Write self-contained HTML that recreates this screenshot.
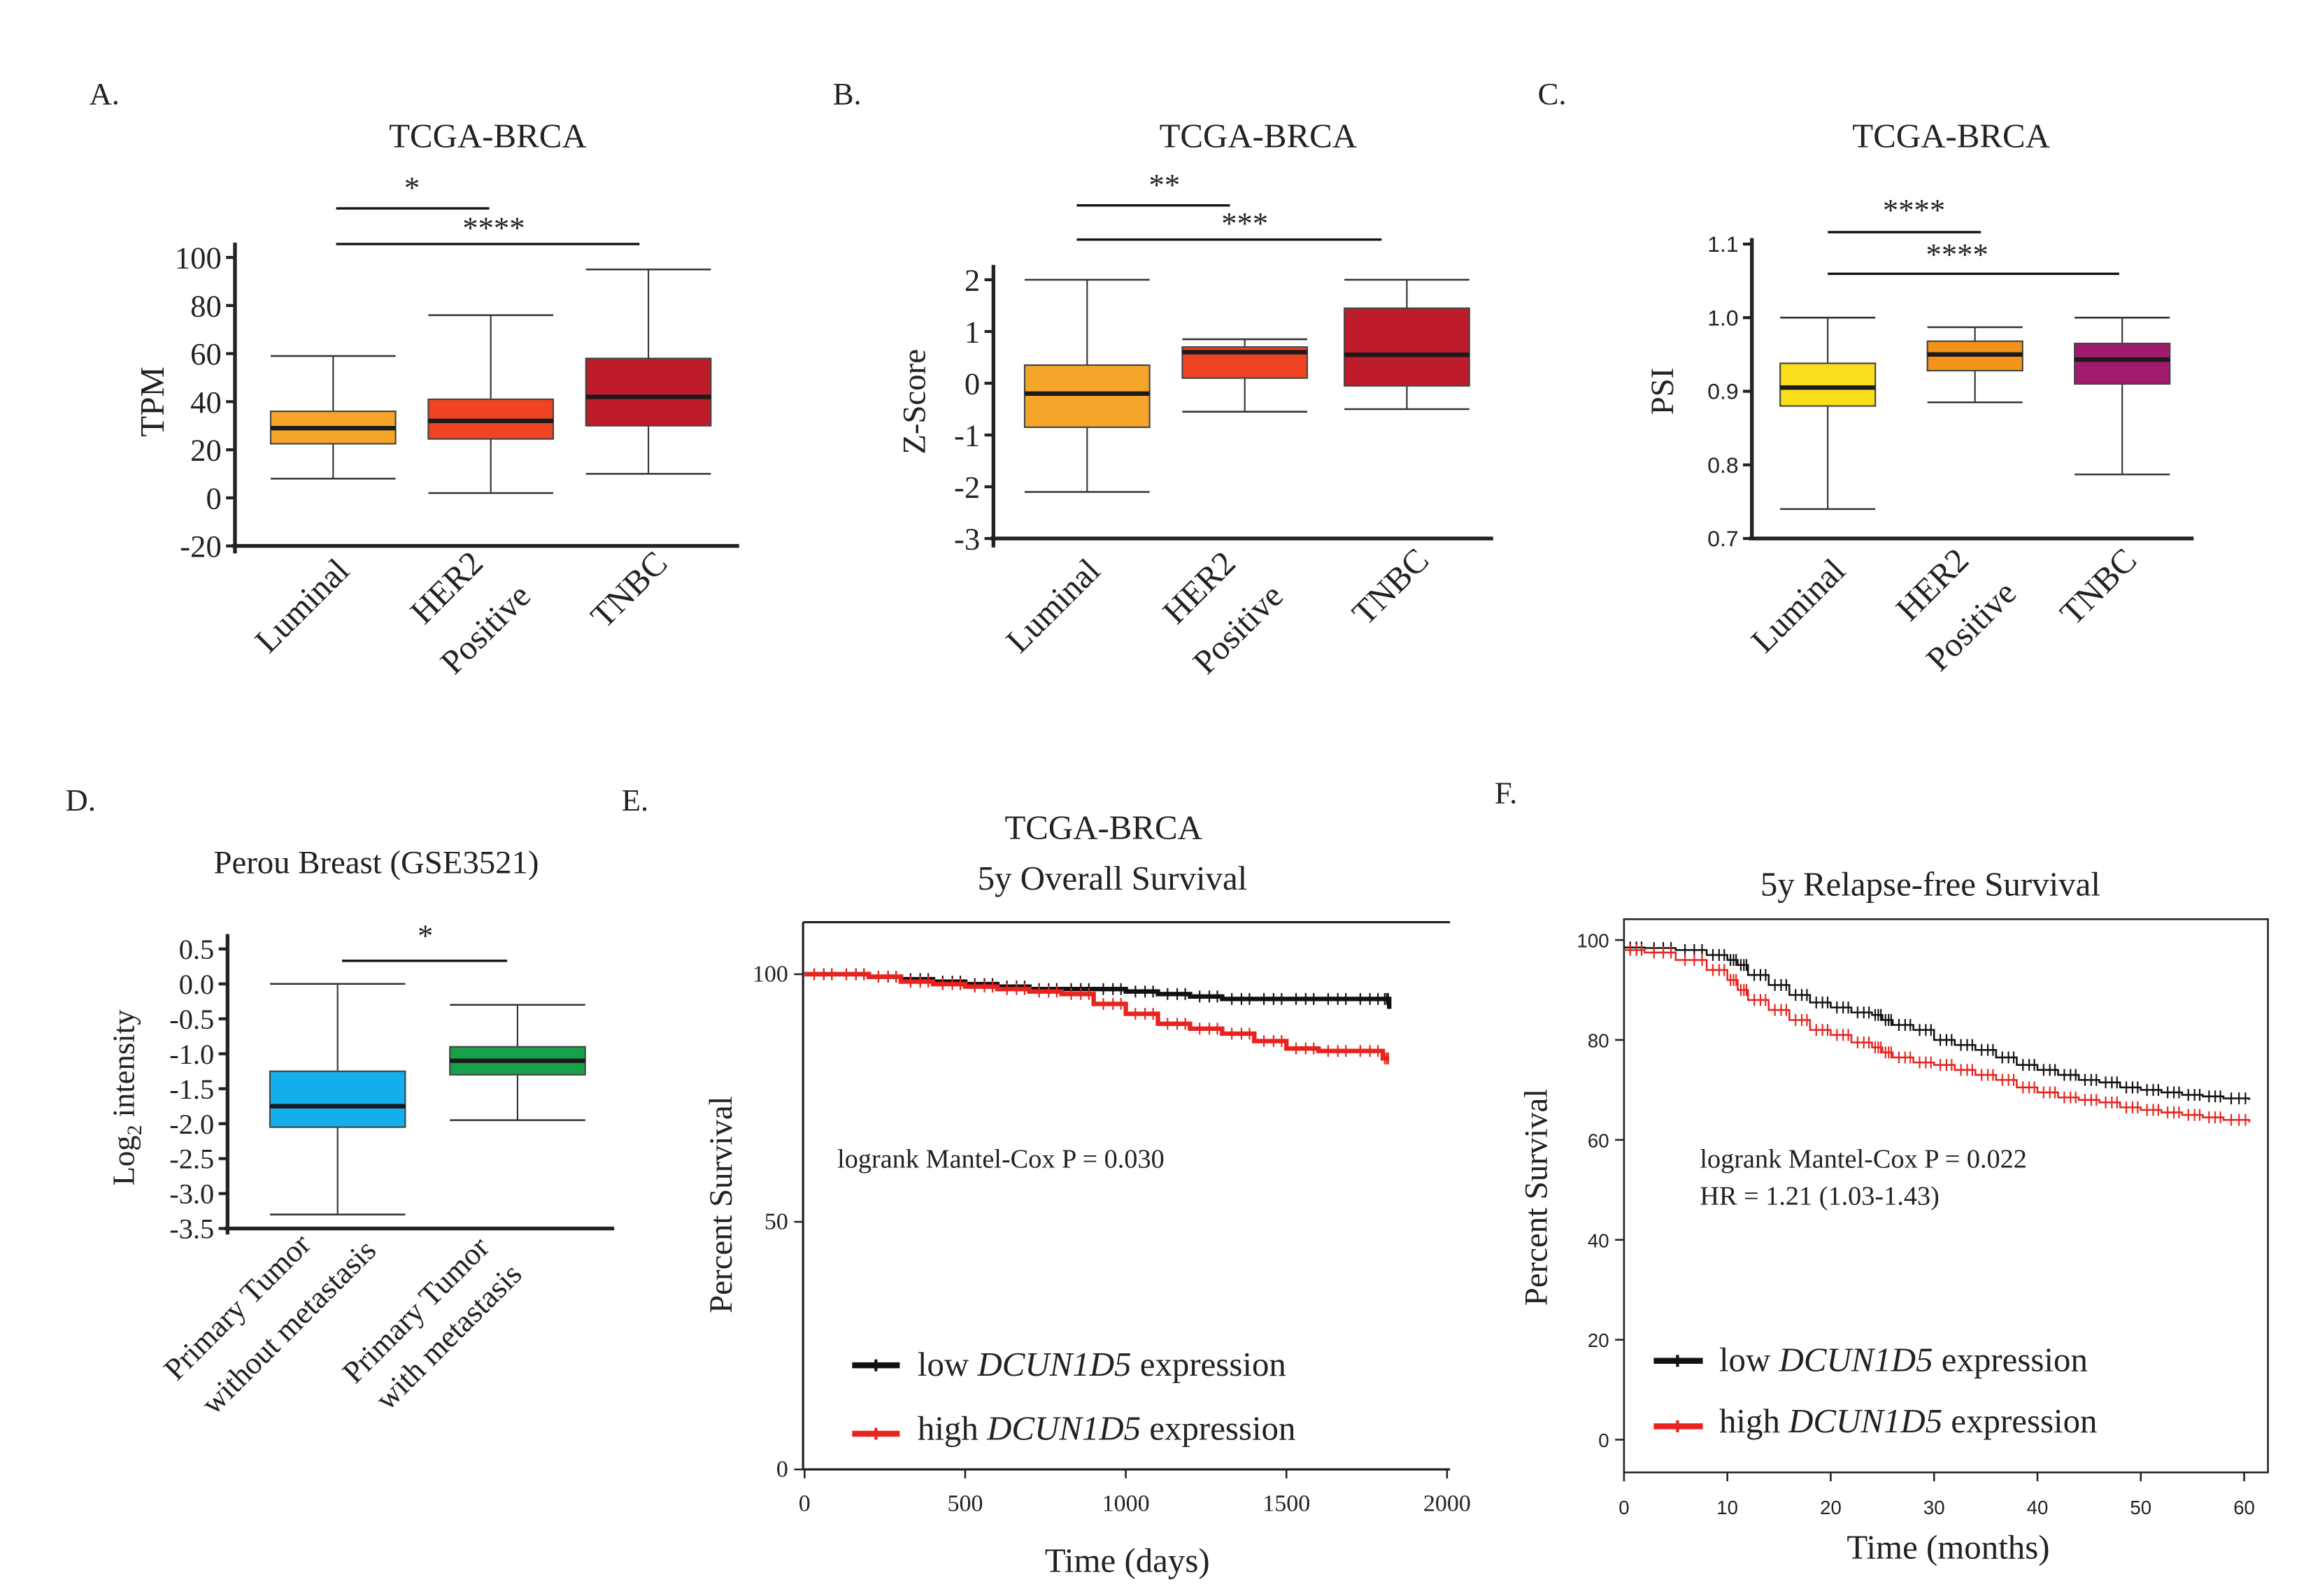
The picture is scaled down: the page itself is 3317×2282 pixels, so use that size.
<!DOCTYPE html>
<html><head><meta charset="utf-8"><style>
html,body{margin:0;padding:0;background:#fff}
svg{display:block}
text{font-family:"Liberation Serif",serif;fill:#222}
.sans{font-family:"Liberation Sans",sans-serif}
</style></head><body>
<svg id="fig" width="3317" height="2282" viewBox="0 0 1560 1073" xmlns="http://www.w3.org/2000/svg">
<rect width="1560" height="1073" fill="#fff"/>
<text x="60" y="70" font-size="21">A.</text>
<text x="560" y="70" font-size="21">B.</text>
<text x="1034" y="70" font-size="21">C.</text>
<text x="44" y="545" font-size="21">D.</text>
<text x="418" y="545" font-size="21">E.</text>
<text x="1005" y="540" font-size="21">F.</text>
<text x="328" y="99" font-size="23" text-anchor="middle">TCGA-BRCA</text>
<text x="846" y="99" font-size="23" text-anchor="middle">TCGA-BRCA</text>
<text x="1312" y="99" font-size="23" text-anchor="middle">TCGA-BRCA</text>
<text x="253" y="587" font-size="22" text-anchor="middle">Perou Breast (GSE3521)</text>
<text x="742" y="564" font-size="23" text-anchor="middle">TCGA-BRCA</text>
<text x="748" y="598" font-size="23" text-anchor="middle">5y Overall Survival</text>
<text x="1298" y="602" font-size="23" text-anchor="middle">5y Relapse-free Survival</text>
<text transform="translate(110,270) rotate(-90)" font-size="23" text-anchor="middle">TPM</text>
<text transform="translate(622,270) rotate(-90)" font-size="22" text-anchor="middle">Z-Score</text>
<text transform="translate(1125,263) rotate(-90)" font-size="22" text-anchor="middle">PSI</text>
<text transform="translate(90,738) rotate(-90)" font-size="21" text-anchor="middle">Log<tspan font-size="14" dy="5">2</tspan><tspan dy="-5"> intensity</tspan></text>
<text transform="translate(492,810) rotate(-90)" font-size="22" text-anchor="middle">Percent Survival</text>
<text transform="translate(1040,805) rotate(-90)" font-size="22" text-anchor="middle">Percent Survival</text>
<text x="758" y="1057" font-size="23" text-anchor="middle">Time (days)</text>
<text x="1310" y="1048" font-size="23" text-anchor="middle">Time (months)</text>
<g font-size="23" text-anchor="end">
<text transform="translate(236,385) rotate(-45)">Luminal</text>
<text transform="translate(326,380) rotate(-45)">HER2</text>
<text transform="translate(358,402) rotate(-45)">Positive</text>
<text transform="translate(450,380) rotate(-45)">TNBC</text>
<text transform="translate(741,385) rotate(-45)">Luminal</text>
<text transform="translate(832,380) rotate(-45)">HER2</text>
<text transform="translate(864,402) rotate(-45)">Positive</text>
<text transform="translate(962,378) rotate(-45)">TNBC</text>
<text transform="translate(1242,385) rotate(-45)">Luminal</text>
<text transform="translate(1325,378) rotate(-45)">HER2</text>
<text transform="translate(1357,400) rotate(-45)">Positive</text>
<text transform="translate(1438,378) rotate(-45)">TNBC</text>
</g>
<g font-size="21" text-anchor="end">
<text transform="translate(210,838) rotate(-45)">Primary Tumor</text>
<text transform="translate(254,842) rotate(-45)">without metastasis</text>
<text transform="translate(330,840) rotate(-45)">Primary Tumor</text>
<text transform="translate(352,858) rotate(-45)">with metastasis</text>
</g>
<text x="563" y="785" font-size="18">logrank Mantel-Cox P = 0.030</text>
<text x="1143" y="785" font-size="18">logrank Mantel-Cox P = 0.022</text>
<text x="1143" y="810" font-size="18">HR = 1.21 (1.03-1.43)</text>
<g>
<line x1="573" y1="918" x2="605" y2="918" stroke="#111" stroke-width="4"/><line x1="589" y1="914" x2="589" y2="922" stroke="#111" stroke-width="2"/>
<text x="617" y="925" font-size="23">low <tspan font-style="italic">DCUN1D5</tspan> expression</text>
<line x1="573" y1="964" x2="605" y2="964" stroke="#e8231e" stroke-width="4"/><line x1="589" y1="960" x2="589" y2="968" stroke="#e8231e" stroke-width="2"/>
<text x="617" y="968" font-size="23">high <tspan font-style="italic">DCUN1D5</tspan> expression</text>
</g>
<g>
<line x1="1112" y1="915" x2="1145" y2="915" stroke="#111" stroke-width="4"/><line x1="1128" y1="911" x2="1128" y2="919" stroke="#111" stroke-width="2"/>
<text x="1156" y="922" font-size="23">low <tspan font-style="italic">DCUN1D5</tspan> expression</text>
<line x1="1112" y1="959" x2="1145" y2="959" stroke="#e8231e" stroke-width="4"/><line x1="1128" y1="955" x2="1128" y2="963" stroke="#e8231e" stroke-width="2"/>
<text x="1156" y="963" font-size="23">high <tspan font-style="italic">DCUN1D5</tspan> expression</text>
</g>
<g id="dyn"></g>
</svg>
<script>
const boxCatsA=["Luminal","HER2 Positive","TNBC"];
const boxA=[[8,22.5,29,36,59],[2,24.5,32,41,76],[10,30,42,58,95]];
const ticksA=[100,80,60,40,20,0,-20];
const boxB=[[-2.1,-0.85,-0.2,0.35,2.0],[-0.55,0.1,0.6,0.7,0.85],[-0.5,-0.05,0.55,1.45,2.0]];
const ticksB=[2,1,0,-1,-2,-3];
const boxC=[[0.74,0.88,0.905,0.938,1.0],[0.885,0.928,0.95,0.968,0.987],[0.787,0.91,0.943,0.965,1.0]];
const ticksC=[1.1,1.0,0.9,0.8,0.7];
const boxCatsD=["Primary Tumor without metastasis","Primary Tumor with metastasis"];
const boxD=[[-3.3,-2.05,-1.75,-1.25,0.0],[-1.95,-1.3,-1.1,-0.9,-0.3]];
const ticksD=[0.5,0,-0.5,-1,-1.5,-2,-2.5,-3,-3.5];
const eTime=[0,100,200,300,400,500,600,700,800,900,1000,1100,1200,1300,1400,1500,1600,1700,1800,1820];
const eLow=[100,100,99.5,99,98.5,98,97.5,97,97,97,96.5,96,95.5,95,95,95,95,95,95,93];
const eHigh=[100,100,99.5,98.5,98,97.5,97,96.5,96,94,92,90,89,88,86.5,85,84.5,84.5,83,83];
const eTicksX=[0,500,1000,1500,2000];
const eTicksY=[0,50,100];
const fTime=[0,2,5,8,10,11,12,14,16,18,20,22,24,25,26,28,30,32,34,36,38,40,42,44,46,48,50,52,54,56,58,60.5];
const fLow=[98.5,98.4,98,97,96,95,93,91,89,87.5,86.5,85.5,85,84,83,82,80,79,78,76.5,75,74,73,72,71.5,70.5,70,69.5,69,68.7,68.3,68];
const fHigh=[98,97.5,96,94,92,90,88,86,84,82,81,79.5,78.5,77.5,76.5,75.5,75,74,73,72,70.5,69.5,68.5,68,67.5,66.5,66,65.5,65,64.5,64,63.5];
const fTicksX=[0,10,20,30,40,50,60];
const fTicksY=[0,20,40,60,80,100];

const NS="http://www.w3.org/2000/svg";
const root=document.getElementById('dyn');
function mk(tag,attrs,parent){const e=document.createElementNS(NS,tag);for(const k in attrs)e.setAttribute(k,attrs[k]);(parent||root).appendChild(e);return e;}
function ln(x1,y1,x2,y2,w,c,p){return mk('line',{x1,y1,x2,y2,stroke:c||'#222','stroke-width':w||1},p);}
function lin(d0,d1,r0,r1){return v=>r0+(v-d0)*(r1-r0)/(d1-d0);}

function boxPanel(opt){
  const g=mk('g',{});
  
  
  const y=lin(opt.d0,opt.d1,opt.r0,opt.r1);
  ln(opt.ax,opt.axTop,opt.ax,opt.axBot,2.5,'#222',g);
  ln(opt.ax-2,opt.xAxY,opt.xEnd,opt.xAxY,2.5,'#222',g);
  opt.ticks.forEach(t=>{
    const ty=y(t);
    ln(opt.ax-6,ty,opt.ax,ty,2,'#222',g);
    const tx=mk('text',{x:opt.ax-9,y:ty+opt.fs*0.35,'font-size':opt.fs,'text-anchor':'end',class:opt.tickClass||''},g);
    
    
    tx.textContent=opt.fmt?opt.fmt(t):t;
  });
  opt.data.forEach((b,i)=>{
    const cx=opt.cx[i],hw=opt.w/2;
    const bg=mk('g',{},g);
    
    
    ln(cx,y(b[0]),cx,y(b[1]),1,'#333',bg);
    ln(cx,y(b[3]),cx,y(b[4]),1,'#333',bg);
    ln(cx-hw,y(b[0]),cx+hw,y(b[0]),1.2,'#333',bg);
    ln(cx-hw,y(b[4]),cx+hw,y(b[4]),1.2,'#333',bg);
    mk('rect',{x:cx-hw,y:y(b[3]),width:opt.w,height:y(b[1])-y(b[3]),fill:opt.colors[i],stroke:'#444','stroke-width':1},bg);
    ln(cx-hw,y(b[2]),cx+hw,y(b[2]),3,'#1a1a1a',bg);
  });
  opt.sig.forEach(s=>{
    ln(s[0],s[2],s[1],s[2],1.6,'#111',g);
    const t=mk('text',{x:s[3],y:s[4],'font-size':21,'text-anchor':'middle'},g);
    
    
    t.textContent=s[5];
  });
}
boxPanel({name:'panel-a-boxplot',d0:100,d1:-20,r0:173,r1:367,ax:158,axTop:163,axBot:372,xAxY:367,xEnd:497,ticks:ticksA,fs:21,
  data:boxA,cx:[224,330,436],w:84,colors:['#F5A52A','#EE4423','#BE1C2A'],
  sig:[[226,329,140,277,133,'*'],[226,430,164,332,160,'****']]});
boxPanel({name:'panel-b-boxplot',d0:2,d1:-3,r0:188,r1:362,ax:668,axTop:178,axBot:368,xAxY:362,xEnd:1004,ticks:ticksB,fs:21,
  data:boxB,cx:[731,837,946],w:84,colors:['#F5A52A','#EE4423','#BE1C2A'],
  sig:[[724,827,138,783,131,'**'],[724,929,161,837,157,'***']]});
boxPanel({name:'panel-c-boxplot',d0:1.1,d1:0.7,r0:164,r1:362,ax:1178,axTop:160,axBot:362,xAxY:362,xEnd:1475,ticks:ticksC,fs:15,tickClass:'sans',fmt:t=>t.toFixed(1),
  data:boxC,cx:[1229,1328,1427],w:64,colors:['#FADD1B','#F39419','#A01A6E'],
  sig:[[1229,1332,156,1287,148,'****'],[1229,1425,184,1316,178,'****']]});
boxPanel({name:'panel-d-boxplot',d0:0.5,d1:-3.5,r0:638,r1:826,ax:153,axTop:628,axBot:830,xAxY:826,xEnd:413,ticks:ticksD,fs:19,fmt:t=>t.toFixed(1),
  data:boxD,cx:[227,348],w:91,colors:['#13AEEB','#17A14A'],
  sig:[[230,341,646,286,636,'*']]});

function survPanel(opt){
  const g=mk('g',{});
  
  
  const x=lin(opt.xd[0],opt.xd[1],opt.xr[0],opt.xr[1]);
  const y=lin(opt.yd[0],opt.yd[1],opt.yr[0],opt.yr[1]);
  opt.frame(g);
  opt.tx.forEach(t=>{const px=x(t);ln(px,opt.bot,px,opt.bot+6,1.2,'#222',g);
    const e=mk('text',{x:px,y:opt.bot+28,'font-size':opt.fs,'text-anchor':'middle',class:opt.cls},g);
    e.textContent=t;});
  opt.ty.forEach(t=>{const py=y(t);ln(opt.left-6,py,opt.left,py,1.2,'#222',g);
    const e=mk('text',{x:opt.left-10,y:py+5,'font-size':opt.fs,'text-anchor':'end',class:opt.cls},g);
    e.textContent=t;});
  opt.series.forEach(s=>{
    let d='M'+x(s.t[0])+','+y(s.v[0]);
    for(let i=1;i<s.t.length;i++){d+=' H'+x(s.t[i])+' V'+y(s.v[i]);}
    const p=mk('path',{d,fill:'none',stroke:s.c,'stroke-width':opt.sw},g);
    
    
    for(let i=1;i<s.t.length;i++){
      [0.3,0.6,0.85].forEach(f=>{const px=x(s.t[i-1])+(x(s.t[i])-x(s.t[i-1]))*f,py=y(s.v[i-1]);
        ln(px,py-opt.m,px,py+opt.m,1,s.c,g);});
    }
  });
}
survPanel({name:'panel-e-survival',xd:[0,2000],xr:[541,973],yd:[0,100],yr:[988,655],left:540,bot:988,fs:16,cls:'',sw:3,m:4,
  tx:eTicksX,ty:eTicksY,
  frame:g=>{ln(540,620,540,988,1.5,'#222',g);ln(540,988,975,988,1.5,'#222',g);ln(540,620,975,620,1.5,'#222',g);},
  series:[{t:eTime,v:eLow,c:'#111',n:'e-low-expression-curve'},{t:eTime,v:eHigh,c:'#e8231e',n:'e-high-expression-curve'}]});
survPanel({name:'panel-f-survival',xd:[0,60],xr:[1092,1509],yd:[0,100],yr:[968,632],left:1092,bot:990,fs:13,cls:'sans',sw:1.2,m:4,
  tx:fTicksX,ty:fTicksY,
  frame:g=>{mk('rect',{x:1092,y:618,width:433,height:372,fill:'none',stroke:'#222','stroke-width':1.2},g);},
  series:[{t:fTime,v:fLow,c:'#111',n:'f-low-expression-curve'},{t:fTime,v:fHigh,c:'#e8231e',n:'f-high-expression-curve'}]});
</script>
</body></html>
